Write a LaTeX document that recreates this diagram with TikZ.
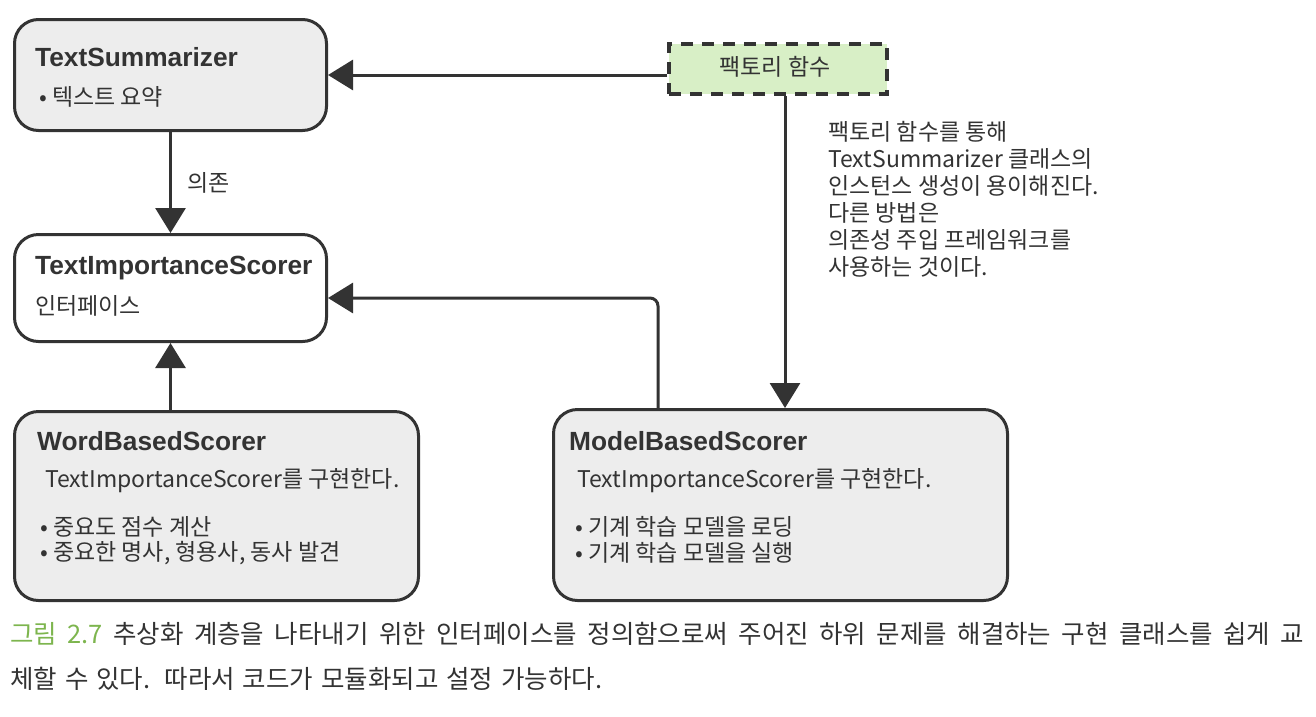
\documentclass[tikz,border=0pt]{standalone}
\usepackage{fontspec}
\setmainfont{Noto Sans CJK KR}
\newfontfamily\titlefont{Liberation Sans}[BoldFont={Liberation Sans Bold}]
\usetikzlibrary{arrows.meta,calc}
\definecolor{ink}{HTML}{333333}
\definecolor{boxgray}{HTML}{EDEDED}
\definecolor{facgreen}{HTML}{D8EFC6}
\definecolor{capgreen}{HTML}{7DB54E}
\begin{document}
\begin{tikzpicture}[x=1pt,y=-1pt,
  cls/.style={draw=ink, line width=3pt, rounded corners=24pt, anchor=north west, inner sep=0pt},
  ttl/.style={anchor=west, inner sep=0pt, text=ink, font=\titlefont\bfseries\fontsize{26.3}{29}\selectfont},
  txt/.style={anchor=west, inner sep=0pt, text=ink, font=\fontsize{23}{26}\selectfont},
  captxt/.style={anchor=west, inner sep=0pt, text=ink, font=\fontsize{25.5}{29}\selectfont},
  arr/.style={draw=ink, line width=3pt, -{Triangle[length=25pt,width=30pt]}}
]
\useasboundingbox (0,0) rectangle (1316,716);

% boxes
\node[cls, fill=boxgray, minimum width=312pt, minimum height=111pt] (ts) at (13,18) {};
\node[cls, fill=white, minimum width=312pt, minimum height=107pt] (tis) at (13,233) {};
\node[cls, fill=boxgray, minimum width=404pt, minimum height=189pt] (wbs) at (13,410) {};
\node[cls, fill=boxgray, minimum width=454pt, minimum height=191pt] (mbs) at (552,408) {};
\node[draw=ink, line width=4pt, dash pattern=on 12pt off 9pt, fill=facgreen, anchor=north west,
      minimum width=218pt, minimum height=50pt, inner sep=0pt] (fac) at (667,42) {};

% box texts
\node[ttl] (tsT) at (35,57) {TextSummarizer};
\node[txt] (tsB) at (39,97) {• 텍스트 요약};
\node[ttl] (tisT) at (35,268) {TextImportanceScorer};
\node[txt] (tisB) at (35,306) {인터페이스};
\node[ttl] (wbsT) at (37,441) {WordBasedScorer};
\node[txt] (wbsS) at (45,481) {TextImportanceScorer를 구현한다.};
\node[txt] (wbsB1) at (40,527) {• 중요도 점수 계산};
\node[txt] (wbsB2) at (40,553) {• 중요한 명사, 형용사, 동사 발견};
\node[ttl] (mbsT) at (569,441) {ModelBasedScorer};
\node[txt] (mbsS) at (577,481) {TextImportanceScorer를 구현한다.};
\node[txt] (mbsB1) at (575,527) {• 기계 학습 모델을 로딩};
\node[txt] (mbsB2) at (575,553) {• 기계 학습 모델을 실행};
\node[txt, anchor=center] (facT) at (775,67) {팩토리 함수};

% connectors
\draw[arr] (ts.east -| fac.west) -- (ts.east);
\draw[arr] (ts.south) -- node[txt, right=15pt] (dep) {의존} (tis.north);
\draw[arr] (tis.south |- wbs.north) -- (tis.south);
\draw[arr] ([xshift=7pt]fac.south) -- ([xshift=7pt]fac.south |- mbs.north);
\draw[arr, rounded corners=8pt] ([xshift=106pt]mbs.north west) |- ([yshift=-10pt]tis.east);

% annotation
\node[anchor=north west, inner sep=0pt, align=left, text=ink, font=\fontsize{23}{27}\selectfont] (note) at (828,121)
 {팩토리 함수를 통해\\TextSummarizer 클래스의\\인스턴스 생성이 용이해진다.\\다른 방법은\\의존성 주입 프레임워크를\\사용하는 것이다.};

% caption
\node[captxt] (cap1) at (10,634)
 {\makebox[1294pt][s]{\textcolor{capgreen}{그림 2.7} 추상화 계층을 나타내기 위한 인터페이스를 정의함으로써 주어진 하위 문제를 해결하는 구현 클래스를 쉽게 교}};
\node[captxt] (cap2) at (10,679)
 {\makebox[592pt][s]{체할 수 있다. 따라서 코드가 모듈화되고 설정 가능하다.}};
\end{tikzpicture}
\end{document}
